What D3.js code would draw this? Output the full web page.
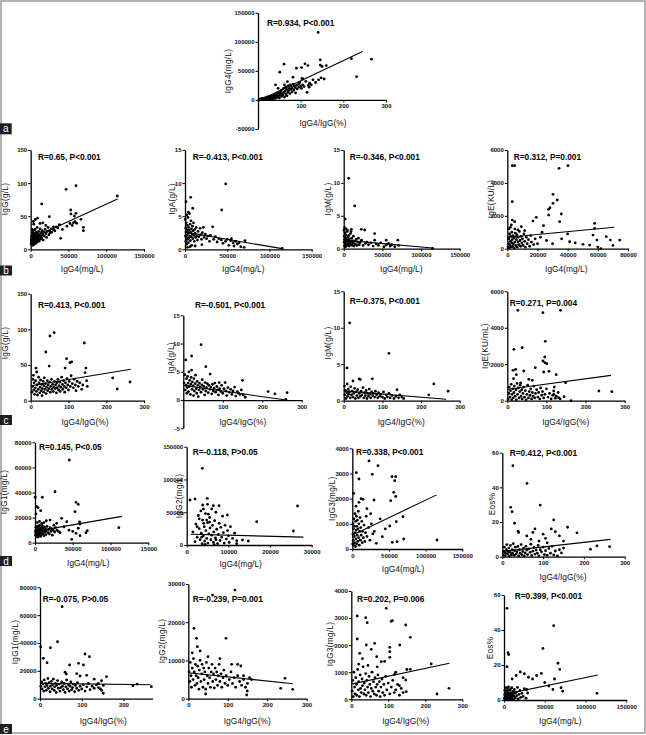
<!DOCTYPE html>
<html><head><meta charset="utf-8">
<script src="https://cdn.jsdelivr.net/npm/d3@7"></script>
<style>
body{margin:0;background:#fff}
svg{display:block}
text{font-family:"Liberation Sans",Arial,sans-serif}
</style>
</head><body>
<svg id="chart" width="646" height="735"></svg>
<script>
// ---------------- DATA ----------------
const rTexts = {
  a:"R=0.934, P<0.001",
  b1:"R=0.65, P<0.001", b2:"R=-0.413, P<0.001", b3:"R=-0.346, P<0.001", b4:"R=0.312, P=0.001",
  c1:"R=0.413, P<0.001", c2:"R=-0.501, P<0.001", c3:"R=-0.375, P<0.001", c4:"R=0.271, P=0.004",
  d1:"R=0.145, P<0.05", d2:"R=-0.118, P>0.05", d3:"R=0.338, P<0.001", d4:"R=0.412, P<0.001",
  e1:"R=-0.075, P>0.05", e2:"R=-0.239, P=0.001", e3:"R=0.202, P=0.006", e4:"R=0.399, P<0.001"
};
const xTitles = {a:"IgG4/IgG(%)",b1:"IgG4(mg/L)",b2:"IgG4(mg/L)",b3:"IgG4(mg/L)",b4:"IgG4(mg/L)",
  c1:"IgG4/IgG(%)",c2:"IgG4/IgG(%)",c3:"IgG4/IgG(%)",c4:"IgG4/IgG(%)",
  d1:"IgG4(mg/L)",d2:"IgG4(mg/L)",d3:"IgG4(mg/L)",d4:"IgG4/IgG(%)",
  e1:"IgG4/IgG(%)",e2:"IgG4/IgG(%)",e3:"IgG4/IgG(%)",e4:"IgG4(mg/L)"};
const yTitles = {a:"IgG4(mg/L)",b1:"IgG(g/L)",b2:"IgA(g/L)",b3:"IgM(g/L)",b4:"IgE(KU/L)",
  c1:"IgG(g/L)",c2:"IgA(g/L)",c3:"IgM(g/L)",c4:"IgE(KU/mL)",
  d1:"IgG1(mg/L)",d2:"IgG2(mg/L)",d3:"IgG3(mg/L)",d4:"Eos%",
  e1:"IgG1(mg/L)",e2:"IgG2(mg/L)",e3:"IgG3(mg/L)",e4:"Eos%"};

const xTicks = {a:[100,200,300],b1:[0,50000,100000,150000],b2:[0,50000,100000,150000],b3:[0,50000,100000,150000],b4:[0,20000,40000,60000,80000],
  c1:[0,100,200,300],c2:[100,200,300],c3:[0,100,200,300],c4:[0,100,200,300],
  d1:[0,50000,100000,150000],d2:[0,10000,20000,30000],d3:[0,50000,100000,150000],d4:[0,100,200,300],
  e1:[0,100,200],e2:[0,100,200,300],e3:[0,100,200,300],e4:[0,50000,100000,150000]};
const xTickLabels = {d1:["0","50000","100000","15000"]};
const yTicks = {a:[-50000,0,50000,100000,150000],b1:[0,50,100,150],b2:[0,5,10,15],b3:[0,5,10,15],b4:[0,2000,4000,6000],
  c1:[0,50,100,150],c2:[-5,0,5,10,15],c3:[0,5,10,15],c4:[0,2000,4000,6000],
  d1:[0,20000,40000,60000,80000],d2:[0,50000,100000,150000],d3:[0,1000,2000,3000,4000],d4:[0,20,40,60],
  e1:[0,20000,40000,60000,80000],e2:[0,10000,20000,30000],e3:[0,1000,2000,3000,4000],e4:[0,20,40,60]};
const xDomains = {a:[0,300],b1:[0,150000],b2:[0,150000],b3:[0,150000],b4:[0,80000],
  c1:[0,300],c2:[0,300],c3:[0,300],c4:[0,300],
  d1:[0,150000],d2:[0,30000],d3:[0,150000],d4:[0,300],
  e1:[0,270],e2:[0,300],e3:[0,300],e4:[0,150000]};
const yDomains = {a:[-50000,150000],b1:[0,150],b2:[0,15],b3:[0,15],b4:[0,6000],
  c1:[0,150],c2:[-5,15],c3:[0,15],c4:[0,6000],
  d1:[0,80000],d2:[0,150000],d3:[0,4000],d4:[0,60],
  e1:[0,80000],e2:[0,30000],e3:[0,4000],e4:[0,60]};

// regression line end points [x,y]
const fitLines = {a:[[0,-2000],[245,83300]],b1:[[0,16],[115000,76]],b2:[[0,2.6],[115000,0.1]],b3:[[0,1.3],[115000,0.1]],b4:[[0,690],[71000,1300]],
  c1:[[0,21],[265,44]],c2:[[0,2.6],[260,0]],c3:[[0,1.35],[265,0.2]],c4:[[0,620],[265,1390]],
  d1:[[0,9000],[115000,21000]],d2:[[1000,16500],[28000,12000]],d3:[[0,550],[115000,2150]],d4:[[0,3],[265,10]],
  e1:[[0,11000],[265,10000]],e2:[[0,6800],[265,3900]],e3:[[0,560],[265,1330]],e4:[[0,3.2],[115000,14.3]]};

const ptsA = [[2,-500],[4,300],[5,1200],[7,600],[8,2000],[10,1000],[10,2800],[12,400],[13,1800],[15,3000],[15,1000],[17,2200],[18,4000],[20,1500],[20,3200],[22,5000],[23,2500],[25,1200],[25,4200],[27,6000],[28,3000],[30,2000],[30,5000],[32,7000],[33,3800],[35,1500],[35,5800],[37,8000],[38,4500],[40,2500],[40,6500],[41,26000],[42,9500],[43,4000],[45,7000],[45,11000],[47,20000],[47,5000],[48,12500],[50,8000],[50,3500],[52,10000],[53,14000],[55,6000],[55,17000],[57,11000],[58,8500],[60,13000],[60,20000],[62,5000],[63,15000],[65,10000],[65,22000],[67,18000],[68,7000],[70,13000],[70,24000],[72,16000],[73,20000],[75,11000],[75,26000],[77,18000],[78,23000],[80,14000],[80,20000],[82,27000],[84,17000],[85,24000],[87,21000],[88,12000],[90,25000],[92,19000],[95,27000],[96,22000],[98,30000],[100,24000],[102,20000],[105,26000],[108,23000],[112,32000],[118,25000],
 [141,116000],[61,61500],[51,47700],[90,54600],[102,55700],[110,62000],[117,59000],[146,69000],[146,60000],[150,57500],[160,59000],[142,34500],[219,71000],[266,70000],[231,40000],[103,37000],[115,13000],[121,28700],[129,34500],[82,39000],[69,31600],[105,36000],[120,22000],[125,26000],[135,30000],[148,38000],[155,36000],[62,26000]];

const ptsB1 = [[500,8],[800,14],[1000,20],[1200,11],[1500,17],[1800,25],[2000,9],[2200,14],[2500,19],[2800,12],[3000,22],[3000,6],[3300,16],[3500,28],[3800,10],[4000,18],[4200,13],[4500,24],[4800,8],[5000,15],[5200,20],[5500,11],[5800,30],[6000,17],[6200,13],[6500,22],[6800,9],[7000,19],[7300,26],[7500,14],[7800,16],[8000,21],[8300,11],[8500,33],[8800,18],[9000,24],[9300,14],[9600,20],[10000,16],[10500,27],[11000,12],[11500,22],[12000,18],[12500,31],[13000,15],[13500,25],[14000,20],[14500,17],[15000,28],[16000,22],[16500,14],[17000,26],[18000,20],[19000,30],[20000,24],[21000,18],[22000,27],[23000,33],[24000,22],[25000,28],[26000,25],[27000,31],[28000,26],[30000,30],[32000,28],[34000,34],[36000,32],[38000,37],[2000,30],[4000,38],[6000,45],[3500,42],[12350,39],[14560,68.5],[24700,49.3],[30000,34],[37900,37],[39700,16.6],[46800,90.6],[60000,96],[114700,80.5],[52900,59.4],[53400,53.4],[60000,54.4],[57800,50.3],[66600,45.3],[69700,33.2],[69700,28.2],[52000,39],[56500,40],[58700,41.8],[60900,39.3],[55000,36],[42000,30],[48000,35],[9000,47],[16000,40],[20000,36]];

const ptsB2 = [[300,4.5],[500,2],[800,3.2],[1000,1.2],[1200,2.6],[1500,4.0],[1800,1.8],[2000,3.0],[2200,0.8],[2500,2.2],[2800,3.6],[3000,1.5],[3200,2.8],[3500,4.8],[3800,1.0],[4000,2.4],[4300,3.3],[4600,1.7],[5000,2.9],[5300,5.4],[5600,2.0],[6000,3.8],[6300,1.3],[6600,2.6],[7000,4.3],[7300,1.9],[7600,3.1],[8000,0.6],[8400,2.3],[8800,3.5],[9200,1.6],[9600,2.8],[10000,4.0],[10500,2.1],[11000,1.2],[11500,3.0],[12000,2.4],[12600,1.8],[13200,3.3],[14000,2.0],[14800,1.4],[15500,2.7],[16500,1.9],[17800,3.17],[18500,2.2],[19500,1.5],[20500,2.5],[21700,3.32],[22500,1.8],[24000,2.3],[25500,1.6],[27000,2.0],[29000,1.2],[30000,2.1],[32800,3.4],[34000,1.5],[36000,1.9],[38000,1.1],[40000,1.6],[43000,1.4],[45000,0.9],[48000,1.2],[50000,1.5],[52000,0.6],[54000,1.3],[55000,1.6],[57000,1.0],[58000,0.5],[60000,1.2],[62000,0.8],[64000,1.0],[66000,0.4],[70000,0.3],[71000,1.3],[115000,0.15],[48200,9.87],[6700,7.85],[1200,7.2],[9100,6.2],[43400,5.94],[2000,5.2],[4000,5.6],[3000,0.3],[6000,0.4],[12000,0.5],[20000,0.7]];

const ptsB3 = [[300,2.8],[500,1.0],[800,1.9],[1000,0.4],[1200,1.4],[1500,2.4],[1800,0.8],[2000,1.7],[2000,4.5],[2300,0.3],[2600,1.2],[3000,2.1],[3300,0.6],[3600,1.5],[4000,1.0],[4300,2.6],[4700,0.5],[5000,1.3],[5400,1.8],[5800,0.7],[6200,1.1],[6500,10.7],[6600,2.0],[7000,0.4],[7400,1.5],[7800,0.9],[8200,1.2],[8700,2.3],[9200,0.6],[9500,2.6],[9900,2.94],[10000,1.0],[10500,1.6],[11000,0.5],[11500,1.2],[12000,0.8],[12600,1.9],[13200,0.4],[14000,1.1],[14200,6.5],[15000,0.7],[16000,1.4],[17000,0.5],[18000,1.0],[19000,1.6],[20000,0.6],[21000,0.9],[22800,2.94],[23000,1.3],[25000,0.5],[27200,2.84],[28000,0.8],[30000,1.0],[32000,0.6],[35000,0.9],[38000,0.4],[40000,2.3],[40000,1.3],[42000,0.7],[45000,0.5],[48000,0.9],[52000,0.3],[55000,1.3],[55000,0.56],[58000,0.8],[60000,0.4],[62000,0.6],[66000,0.3],[70000,1.3],[71000,0.5],[115000,0.05],[3000,3.0],[5000,2.8],[1000,3.2]];

const ptsB4 = [[3300,5047],[4900,5047],[40200,5047],[34300,4885],[3300,2858],[30300,3304],[33100,2960],[30300,2757],[27400,2392],[28300,2493],[27400,2047],[35800,2108],[34700,1642],[17000,1682],[19200,1905],[57900,1540],[9300,1338],[11500,1094],[3300,1743],[4900,1642],[2700,1440],[6000,730],[56800,830],[57900,1236],[59400,527],[54600,223],[65600,730],[68300,527],[74500,527],[41300,425],[50200,264],[24000,1400],[22000,700],[26000,500],[30000,300],[36000,600],[40000,900],[45000,350],[20000,300],[23000,1000],[60000,100],[62000,0],[70000,200],
 [500,100],[800,300],[1000,600],[1200,50],[1500,900],[1800,200],[2000,450],[2200,750],[2500,100],[2800,350],[3000,1000],[3200,550],[3500,150],[3800,800],[4000,300],[4300,650],[4600,50],[5000,400],[5300,950],[5600,200],[6000,550],[6300,850],[6600,100],[7000,400],[7300,700],[7600,250],[8000,1050],[8400,500],[8800,150],[9200,750],[9600,350],[10000,600],[10500,200],[11000,900],[11500,450],[12000,100],[12600,700],[13200,300],[14000,550],[14800,150],[15500,800],[16000,400],[17500,250],[18500,600],[1000,1200],[2000,1300],[5000,1200],[7000,1150]];

const ptsC1 = [[3,12],[5,20],[6,30],[8,15],[9,25],[10,9],[12,18],[13,28],[14,45.8],[15,13],[16,40.2],[17,22],[18,8],[20,16],[21,33],[22,25],[24,11],[25,19],[26,29],[28,14],[29,23],[30,7],[31,17],[33,27],[34,12],[35,21],[36,32],[38,16],[39,24],[40,68.3],[41,10],[42,19],[44,28],[45,14],[46,22],[48,17],[49,48.6],[50,26],[51,90.7],[52,12],[53,20],[55,30],[56,16],[58,23],[60,13],[61,19],[62,95.3],[63,27],[65,17],[66,22],[68,11],[69,25],[70,18],[72,30],[74,15],[75,21],[77,26],[78,13],[80,19],[82,33],[84,23],[85,16],[87,28],[89,20],[90,12],[91,45.8],[92,25],[94,18],[95,58.9],[96,31],[98,22],[100,15],[102,27],[104,53.3],[105,20],[107,35],[108.5,54.3],[110,24],[113,18],[115,30],[118,22],[120,14],[123,27],[126,20],[130,25],[135,16],[138,22],[142,80.9],[144,39.3],[146,45.8],[148,28],[150,20],[217,31.8],[229,16.4],[263,26.2],[7,35.6]];

const ptsC2 = [[2,3],[4,4.5],[5,1.8],[6,7.1],[7,2.6],[8,3.8],[9,1.2],[10,2.2],[11,4.2],[12,3.0],[13,1.5],[14.4,5],[15,2.4],[16,3.5],[18,1.0],[19,2.8],[20,4.0],[21,7.8],[21,5.3],[22,1.9],[23,3.2],[25,2.5],[26,0.8],[27,3.8],[28,1.6],[30,2.9],[31,4.4],[33,2.0],[34,1.2],[35,3.3],[37,2.6],[38,0.6],[40,1.8],[41,3.0],[43,2.3],[45,9.8],[45,1.4],[47,2.7],[48,3.6],[50,1.9],[52,2.4],[54,0.9],[55,3.1],[57,5.9],[57,1.6],[59,2.2],[61,2.9],[63,1.3],[65,2.6],[68,4.6],[68,1.9],[70,2.3],[72,1.1],[74,2.8],[76,1.6],[78,2.1],[80,3.0],[82,1.4],[85,2.4],[87,1.8],[89,0.9],[91,3.1],[92,2.0],[95,1.5],[97,2.6],[100,1.2],[103,2.0],[106,3.1],[108,1.6],[110,0.8],[113,2.2],[116,1.4],[120,1.9],[123,1.0],[126,1.6],[130,2.3],[133,0.7],[137,1.5],[140,1.2],[144,1.0],[147,1.8],[150,3.5],[152,0.9],[157,0.5],[215,1.5],[232,1.1],[263,1.3],[260,0.1]];

const ptsC3 = [[2,2.0],[3,0.8],[5,1.4],[6,0.3],[8,1.1],[8.5,4.5],[9,2.3],[10,0.6],[12,1.6],[13,0.9],[15.5,10.66],[15,1.2],[17,0.4],[18,1.9],[20,0.8],[22,1.3],[24,2.7],[24,0.5],[26,1.0],[28,1.7],[30,0.3],[32,1.2],[34,0.7],[36,1.5],[38,0.4],[40,3.0],[40,1.0],[43,2.9],[43,0.6],[45,1.3],[47,0.8],[50,1.8],[52,0.4],[54,1.1],[56,0.7],[58,1.4],[60,0.3],[62,1.0],[64,0.6],[66,1.6],[68,0.9],[70,0.4],[72,1.2],[74,3.0],[75,0.7],[77,1.0],[80,0.5],[82,1.3],[85,0.8],[88,0.4],[90,1.1],[93,0.6],[96,0.9],[100,0.5],[103,1.2],[106,0.3],[110,0.8],[113,0.5],[117,6.5],[117,1.0],[120,0.4],[125,0.7],[130,0.3],[135,0.6],[138,1.5],[142,0.4],[145,0.8],[150,0.5],[155,0.3],[220,0.8],[233,2.3],[270,1.3]];

const ptsC4 = [[27,4958],[136,4958],[91,4827],[97,3258],[17,2819],[38,2907],[95.6,2397],[91,2177],[96,2085],[101,2030],[14.6,1668],[21.5,1723],[23,1427],[42,1629],[93,1574],[106.5,1612],[125,1427],[71.5,1810],[16,1207],[55,1173],[64,1119],[34,971],[149,988],[234,532],[267,494],[118.6,532],[119,350],[163,0],[122.6,131],[145,219],[131,165],
 [2,100],[4,400],[5,750],[7,200],[8,550],[10,900],[11,50],[12,350],[14,650],[15,150],[17,450],[18,800],[20,250],[22,600],[23,50],[25,950],[26,350],[28,700],[30,150],[32,500],[33,850],[35,250],[37,600],[38,100],[40,400],[42,750],[44,200],[46,550],[48,50],[50,350],[52,850],[54,150],[56,500],[58,300],[60,650],[62,100],[64,450],[66,250],[68,800],[70,150],[72,400],[75,600],[78,200],[80,450],[83,100],[85,700],[88,300],[90,500],[93,150],[96,350],[100,650],[104,200],[108,400],[112,100],[116,300],[120,750],[125,250],[130,450],[135,100]];

const ptsD1 = [[45400,65900],[26500,40600],[9700,36200],[300,36200],[54300,32200],[57300,30600],[1300,22900],[7500,25500],[53000,24700],[59600,14900],[59000,16500],[57300,11500],[54300,7500],[59600,5600],[67500,8000],[69300,9600],[111000,12000],[48600,2700],[33100,8000],[38400,12700],[28700,15400],[42000,16700],[35300,19400],[2000,29000],[4000,28000],[20000,18000],[25000,14000],[45000,10000],[50000,9000],
 [500,9000],[800,6000],[1000,12000],[1300,7500],[1600,10000],[2000,5000],[2300,8500],[2600,13000],[3000,6500],[3300,11000],[3600,9000],[4000,4500],[4300,7500],[4600,12500],[5000,10000],[5300,6000],[5600,8500],[6000,14000],[6300,11000],[6600,7000],[7000,9500],[7400,5000],[7800,12000],[8200,8000],[8600,10500],[9000,6500],[9500,13500],[10000,9000],[10500,11500],[11000,7000],[11500,10000],[12000,5500],[12500,12500],[13000,8500],[14000,11000],[14500,6500],[15000,9500],[16000,13000],[17000,8000],[18000,10500],[19000,7000],[20000,12000],[21000,9000],[22000,11000],[23000,6000],[24000,10000],[26000,8500],[27000,12000],[29000,10000],[31000,9000],[3000,16000],[6000,17000],[9000,15500],[12000,16000],[15000,17500]];

const ptsD2 = [[3750,117000],[800,68700],[2000,70200],[4950,71200],[3840,61000],[5000,62000],[6400,60000],[7750,60000],[26600,59500],[9750,45800],[16800,35600],[14800,6100],[12000,6600],[13400,7600],[25600,21400],[4800,38100],
 [1500,20000],[2000,5000],[2200,32000],[2500,12000],[2800,45000],[3000,25000],[3200,8000],[3400,52000],[3500,18000],[3700,2000],[3800,38000],[4000,14000],[4200,28000],[4300,6000],[4500,48000],[4600,22000],[4800,10000],[5000,34000],[5100,3000],[5300,17000],[5500,42000],[5600,26000],[5800,8000],[6000,55000],[6000,15000],[6200,30000],[6400,4000],[6500,20000],[6700,37000],[6900,11000],[7000,50000],[7200,24000],[7400,2000],[7600,16000],[7800,33000],[8000,7000],[8200,27000],[8400,12000],[8600,44000],[8800,19000],[9000,3000],[9200,30000],[9500,9000],[9800,22000],[10000,14000],[10200,4000],[10500,28000],[11000,10000],[11500,18000],[12000,2000],[2500,28000],[3000,40000],[4000,55000],[5500,35000],[7000,8000],[3600,12000],[4400,1000],[6600,500],[5200,47000],[4100,33000]];

const ptsD3 = [[22800,3497],[35000,3308],[5500,3030],[9100,2780],[27300,2967],[54100,2872],[59200,2872],[57800,2713],[1900,2213],[56500,2252],[59200,2085],[52400,1919],[9100,1855],[29600,1946],[14600,1974],[51000,914],[60000,1085],[69100,1283],[54500,266],[61000,290],[70100,397],[115500,357],[32700,226],[40900,489],[12000,2000],[5000,1700],[20000,1600],[25000,1400],[38000,1200],[45000,800],[30000,700],
 [500,200],[800,600],[1000,1000],[1300,350],[1600,800],[2000,150],[2300,1200],[2600,500],[3000,900],[3300,250],[3600,1400],[4000,650],[4300,100],[4600,1100],[5000,400],[5300,750],[5600,1300],[6000,200],[6300,900],[6600,550],[7000,1150],[7400,300],[7800,800],[8200,1500],[8600,450],[9000,1000],[9500,150],[10000,700],[10500,1250],[11000,350],[11500,850],[12000,550],[13000,1100],[13500,250],[14000,700],[15000,450],[16000,950],[17000,300],[18000,650],[19000,1300],[20000,500],[22000,850],[24000,350],[26000,1000],[28000,600]];

const ptsD4 = [[26,52.5],[60.5,42.3],[93,29.8],[20.6,28.5],[24,26],[30,19.3],[38.5,14.8],[40,14],[126,21.2],[130,14.4],[106,10.6],[183,13.8],[263,5.8],[216,4.3],[232,6.2],[75,14],[80,16],[120,16],[140,12],[160,17],[100,13],[90,9],[70,10],[150,9],[110,8],[60,12],
 [2,1],[4,3],[5,5.5],[7,0.5],[8,2],[10,4],[11,7],[13,1.5],[14,3],[16,5],[17,0.3],[19,2.5],[20,6.5],[22,1],[24,4],[25,2],[27,7.5],[29,0.8],[30,3.5],[32,5.5],[34,1.5],[36,2.8],[38,6],[40,0.5],[42,4],[44,2],[46,7],[48,1],[50,3],[52,5],[54,0.4],[56,2.2],[58,6],[60,3.8],[62,1.2],[65,4.5],[68,2.5],[70,7.2],[72,0.7],[75,3.2],[78,5.5],[80,1.5],[83,3.8],[86,2],[88,6.5],[90,0.5],[93,4],[96,2.8],[100,5.5],[103,1.2],[106,3.5],[110,0.8],[114,4.8],[118,2],[122,6],[126,1],[130,3.3],[135,0.5],[140,4],[145,2.2],[150,5]];

const ptsE1 = [[53,66100],[42,40900],[25,36600],[1.6,37300],[8,29000],[17,25900],[108,32100],[118.5,30200],[71,24200],[92.4,25400],[104,24200],[96,16300],[63,17700],[159.5,15800],[112,16800],[147.5,12900],[233,10500],[222.7,9300],[267,8600],[151.7,3900],[60,19000],[88,18000],[130,14000],[140,11000],[145,7000],
 [2,9000],[4,12000],[5,7000],[7,10500],[9,5500],[10,13500],[12,8500],[14,11000],[15,6000],[17,9500],[19,14500],[20,7500],[22,11500],[24,5000],[25,9000],[27,12500],[29,7000],[30,10000],[32,14000],[34,6000],[35,8500],[37,11000],[39,4500],[40,9500],[42,13000],[44,7500],[46,10500],[48,5500],[50,8000],[52,12000],[54,9000],[56,6500],[58,11000],[60,4500],[62,8500],[64,13500],[66,7000],[68,10000],[70,5500],[72,9000],[74,12000],[76,6500],[78,8000],[80,10500],[83,5000],[85,9500],[88,7500],[90,11500],[93,6000],[96,9000],[100,7000],[104,10000],[108,5500],[112,8500],[116,11000],[120,6500],[125,9000],[130,7500],[135,10000],[140,8000],[148,6000],[152,9500]];

const ptsE2 = [[118,28400],[61.6,27100],[14.4,18400],[95.5,15800],[21,15800],[23,13600],[133,8550],[245,5330],[234,2720],[264.5,2460],[149.5,2010],[148,970],[44,1230],[10,12000],[30,12500],[50,11000],[80,10500],[110,9000],[125,9000],[140,6000],[150,4000],[155,5500],[160,5000],
 [2,7000],[4,4500],[5,9500],[7,6000],[8,3000],[10,8000],[12,5000],[13,10500],[15,7000],[17,3500],[18,9000],[20,6000],[22,4000],[24,8500],[25,5500],[27,2500],[28,7500],[30,10000],[32,4500],[34,6500],[35,9000],[37,3000],[39,8000],[40,5000],[42,7000],[44,2500],[46,9500],[48,6000],[50,4000],[52,8000],[54,5500],[56,3000],[58,7000],[60,9000],[62,4500],[64,6500],[66,2800],[68,8000],[70,5000],[72,7000],[74,3500],[76,6000],[78,9000],[80,4500],[83,6500],[85,3000],[88,5500],[90,7500],[93,4000],[96,6000],[100,3500],[104,5000],[108,7000],[112,4000],[116,5500],[120,3000],[125,6000],[130,4500],[135,3500],[140,5000],[145,3000]];

const ptsE3 = [[16,3077],[94.6,3360],[39,3014],[43,2830],[111,2904],[108,2880],[147,2744],[159.5,2290],[16,2228],[131,2006],[63,2068],[40.5,2006],[22.7,1699],[54,1846],[104,1920],[104,1758],[104,1551],[68.6,1573],[81,1389],[117,923],[216,1303],[159.5,1108],[231.6,196],[264,406],[147,713],[148.6,281],[20,1300],[30,1500],[45,1250],[70,1200],[90,1400],[120,1000],[140,800],[130,500],[150,1100],
 [2,300],[4,700],[5,100],[7,1000],[9,450],[10,200],[12,800],[14,550],[15,150],[17,1100],[19,350],[20,650],[22,100],[24,900],[25,400],[27,250],[29,750],[30,500],[32,1200],[34,200],[35,600],[37,350],[39,950],[40,150],[42,700],[44,450],[46,250],[48,850],[50,550],[52,100],[54,400],[56,1000],[58,300],[60,650],[62,200],[64,800],[66,450],[68,150],[70,550],[72,900],[74,300],[76,650],[78,100],[80,450],[83,750],[85,250],[88,550],[90,150],[93,850],[96,350],[100,600],[104,200],[108,450],[112,700],[116,250],[120,350],[125,550],[130,150],[135,400],[140,250]];

const ptsE4 = [[3700,52.4],[60900,42.5],[4900,27],[5700,26],[3700,19],[47800,29.5],[66200,21],[68300,17.5],[114000,3.8],[45800,15.2],[20000,16],[25000,15],[30000,13],[35000,12],[40000,14],[50000,10],[55000,8],[60000,6],[62000,12],[70000,7],[72000,5],[15000,14],[10000,12],[28000,6],
 [500,1],[800,3],[1000,5.5],[1300,0.5],[1600,2],[2000,4],[2300,7],[2600,1.5],[3000,3],[3300,5],[3600,0.3],[4000,2.5],[4300,6.5],[4600,1],[5000,4],[5300,2],[5600,7.5],[6000,0.8],[6300,3.5],[6600,5.5],[7000,1.5],[7400,2.8],[7800,6],[8200,0.5],[8600,4],[9000,2],[9500,7],[10000,1],[10500,3],[11000,5],[11500,0.4],[12000,2.2],[12600,6],[13200,3.8],[14000,1.2],[14800,4.5],[15500,2.5],[16500,7.2],[17500,0.7],[18500,3.2],[19500,5.5],[20500,1.5],[22000,3.8],[23500,2],[25000,6.5],[27000,1],[29000,4]];

const points = {a:ptsA,b1:ptsB1,b2:ptsB2,b3:ptsB3,b4:ptsB4,c1:ptsC1,c2:ptsC2,c3:ptsC3,c4:ptsC4,
  d1:ptsD1,d2:ptsD2,d3:ptsD3,d4:ptsD4,e1:ptsE1,e2:ptsE2,e3:ptsE3,e4:ptsE4};

const panelLetters = ["a","b","c","d","e"];

// ---------------- LAYOUT (pixel geometry) ----------------
// xr: pixel range of x domain, yr: pixel range of y domain [bottom, top]
// rt: R text [left, centerY], xt: x title [centerX, centerY], yt: y title [baselineX, centerY]
const layout = {
  a: {xr:[258,386],   yr:[129,12.7],   rt:[267,22.7],  xt:[323,122.7],  yt:[230.5,71]},
  b1:{xr:[30.7,144],  yr:[249.3,150],  rt:[38,157],    xt:[82,268.7],   yt:[8.3,199]},
  b2:{xr:[185,311.7], yr:[249.3,150],  rt:[192.7,157], xt:[243.3,268.7],yt:[174.6,199]},
  b3:{xr:[343.7,459.7],yr:[248.7,150], rt:[349.7,157], xt:[401.3,268.7],yt:[331,199]},
  b4:{xr:[507.3,628], yr:[248.7,150],  rt:[513.7,157], xt:[566.3,268.7],yt:[494,199]},
  c1:{xr:[30.7,144],  yr:[400.7,293.7],rt:[38,305.3],  xt:[85,421.7],   yt:[7.8,343]},
  c2:{xr:[183.3,301.7],yr:[428.3,315.3],rt:[195,305.3],xt:[242.7,421.7],yt:[174.3,358]},
  c3:{xr:[343.7,459.7],yr:[400.7,291.3],rt:[349.7,301.3],xt:[401.3,421.7],yt:[330.6,343]},
  c4:{xr:[507.3,624.7],yr:[400.7,291.3],rt:[509.7,302.7],xt:[565.7,421.7],yt:[488,346]},
  d1:{xr:[35,148.3],  yr:[542.7,442.3],rt:[39,446.7],  xt:[88.3,562.7], yt:[6.5,492]},
  d2:{xr:[186.7,311.7],yr:[545,446.7], rt:[192.7,451.7],xt:[240.7,564.3],yt:[181.8,496]},
  d3:{xr:[352.3,462.3],yr:[549,448.3], rt:[356,451.7], xt:[403,569],    yt:[335.3,498.7]},
  d4:{xr:[502.3,624.7],yr:[556.7,452.7],rt:[509.7,453.3],xt:[563,576.7],yt:[495,504]},
  e1:{xr:[40,152.6],  yr:[698.7,587.3],rt:[42.7,599.3],xt:[103.3,720.7],yt:[18.4,642]},
  e2:{xr:[188.3,306.7],yr:[698.7,584], rt:[192.7,599.3],xt:[247.3,720.7],yt:[165,641]},
  e3:{xr:[351.3,462.3],yr:[699.3,591], rt:[357,599.3], xt:[405.7,720.7],yt:[332.6,644]},
  e4:{xr:[504,626.3], yr:[700,595],    rt:[514.7,595.7],xt:[560.3,720.7],yt:[492.8,648]}
};
const letterBoxes = {a:[0,123.3,11.7,11], b:[0,265.5,12,10], c:[0,415,12,10], d:[0,556,12,10], e:[0,724,12,10]};

// ---------------- DRAW ----------------
const svg = d3.select("#chart");
svg.append("rect").attr("x",1).attr("y",1).attr("width",644).attr("height",732)
  .attr("fill","none").attr("stroke","#a0a0a0").attr("stroke-width",1.6);

function drawPanel(key){
  const L = layout[key];
  const x = d3.scaleLinear().domain(xDomains[key]).range(L.xr);
  const y = d3.scaleLinear().domain(yDomains[key]).range(L.yr);
  const g = svg.append("g").attr("class","panel-"+key);

  const labs = xTickLabels[key];
  const xa = d3.axisBottom(x).tickValues(xTicks[key]).tickSize(2.5).tickSizeOuter(0).tickPadding(1.8)
    .tickFormat((d,i)=> labs ? labs[i] : String(d));
  const gx = g.append("g").attr("transform",`translate(0,${y(0)})`).call(xa);

  const ya = d3.axisLeft(y).tickValues(yTicks[key]).tickSize(2.5).tickSizeOuter(0).tickPadding(1)
    .tickFormat(d=>String(d));
  const gy = g.append("g").attr("transform",`translate(${L.xr[0]},0)`).call(ya);

  [gx,gy].forEach(ax=>{
    ax.select(".domain").attr("stroke","#000").attr("stroke-width",1.3);
    ax.selectAll(".tick line").attr("stroke","#000").attr("stroke-width",1);
    ax.selectAll(".tick text").attr("font-size","6px").attr("font-weight","bold")
      .attr("fill","#111").attr("font-family","'Liberation Sans',Arial,sans-serif");
  });

  // regression line
  const fl = fitLines[key];
  g.append("line").attr("x1",x(fl[0][0])).attr("y1",y(fl[0][1])).attr("x2",x(fl[1][0])).attr("y2",y(fl[1][1]))
    .attr("stroke","#000").attr("stroke-width",1.1);

  // points
  g.append("g").selectAll("circle").data(points[key]).join("circle")
    .attr("cx",d=>x(d[0])).attr("cy",d=>y(d[1])).attr("r",1.4).attr("fill","#000");

  // R text
  g.append("text").attr("x",L.rt[0]).attr("y",L.rt[1]).attr("dy","0.35em")
    .attr("font-size","8.3px").attr("font-weight","bold").attr("fill","#000").text(rTexts[key]);

  // x title
  g.append("text").attr("x",L.xt[0]).attr("y",L.xt[1]).attr("dy","0.35em").attr("text-anchor","middle")
    .attr("font-size","8.4px").attr("fill","#111").text(xTitles[key]);

  // y title (x = baseline)
  g.append("text").attr("transform",`translate(${L.yt[0]},${L.yt[1]}) rotate(-90)`)
    .attr("text-anchor","middle").attr("font-size","8.2px").attr("letter-spacing","0.3px").attr("fill","#111").text(yTitles[key]);
}

Object.keys(layout).forEach(drawPanel);

// panel letters
panelLetters.forEach(l=>{
  const b = letterBoxes[l];
  svg.append("rect").attr("x",b[0]).attr("y",b[1]).attr("width",b[2]).attr("height",b[3]).attr("fill","#1e1e1e");
  svg.append("text").attr("x",b[0]+b[2]/2).attr("y",b[1]+b[3]/2).attr("dy","0.36em").attr("text-anchor","middle")
    .attr("font-size","10px").attr("fill","#fff").text(l);
});
</script>
</body></html>
